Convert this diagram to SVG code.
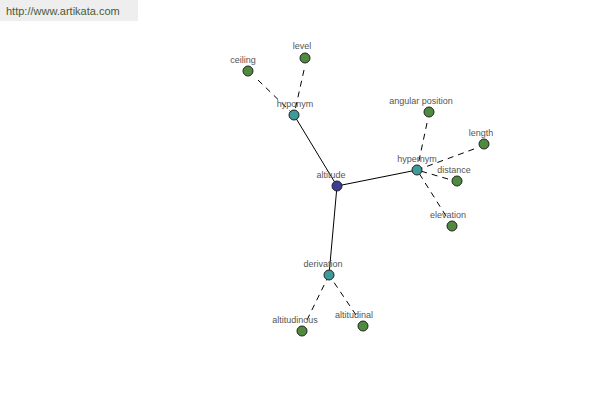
<svg xmlns="http://www.w3.org/2000/svg" width="600" height="400" viewBox="0 0 600 400">
<style>
text{font-family:"Liberation Sans",Arial,sans-serif;font-size:9px;fill:#555;text-anchor:middle}
.n circle{stroke:#222;stroke-width:1}
.leaf{fill:#4f8a3f}
.mid{fill:#3f9a9a}
.root{fill:#3c3c96}
.s{stroke:#000;stroke-width:1;fill:none}
.d{stroke:#000;stroke-width:1;fill:none;stroke-dasharray:6,5}
</style>
<rect x="0" y="0" width="138" height="21" fill="#eeeeee"/>
<text x="6" y="15" style="text-anchor:start;font-size:11px;fill:#4a5a3a">http://www.artikata.com</text>
<g id="connectors">
<line class="s" x1="337" y1="186" x2="294" y2="115"/>
<line class="s" x1="337" y1="186" x2="417" y2="170"/>
<line class="s" x1="337" y1="186" x2="329" y2="275"/>
<line class="d" x1="258" y1="80" x2="294" y2="115"/>
<line class="d" x1="304" y1="70" x2="294" y2="115"/>
<line class="d" x1="427" y1="123" x2="417" y2="170"/>
<line class="d" x1="474" y1="149" x2="417" y2="170"/>
<line class="d" x1="448" y1="179" x2="417" y2="170"/>
<line class="d" x1="446" y1="216" x2="417" y2="170"/>
<line class="d" x1="307" y1="320" x2="329" y2="275"/>
<line class="d" x1="356" y1="315" x2="329" y2="275"/>
</g>
<g id="altitude" class="n"><circle class="root" cx="337" cy="186" r="5"/><text x="331" y="178">altitude</text></g>
<g id="hyponym" class="n"><circle class="mid" cx="294" cy="115" r="5"/><text x="295" y="107">hyponym</text></g>
<g id="hypernym" class="n"><circle class="mid" cx="417" cy="170" r="5"/><text x="417" y="162">hypernym</text></g>
<g id="derivation" class="n"><circle class="mid" cx="329" cy="275" r="5"/><text x="323" y="267">derivation</text></g>
<g id="ceiling" class="n"><circle class="leaf" cx="248" cy="71" r="5"/><text x="243" y="63">ceiling</text></g>
<g id="level" class="n"><circle class="leaf" cx="305" cy="58" r="5"/><text x="302" y="49">level</text></g>
<g id="angular-position" class="n"><circle class="leaf" cx="429" cy="112" r="5"/><text x="421" y="104">angular position</text></g>
<g id="length" class="n"><circle class="leaf" cx="484" cy="144" r="5"/><text x="481" y="136">length</text></g>
<g id="distance" class="n"><circle class="leaf" cx="457" cy="181" r="5"/><text x="454" y="173">distance</text></g>
<g id="elevation" class="n"><circle class="leaf" cx="452" cy="226" r="5"/><text x="448" y="218">elevation</text></g>
<g id="altitudinous" class="n"><circle class="leaf" cx="302" cy="331" r="5"/><text x="295" y="323">altitudinous</text></g>
<g id="altitudinal" class="n"><circle class="leaf" cx="363" cy="326" r="5"/><text x="354" y="318">altitudinal</text></g>
</svg>
